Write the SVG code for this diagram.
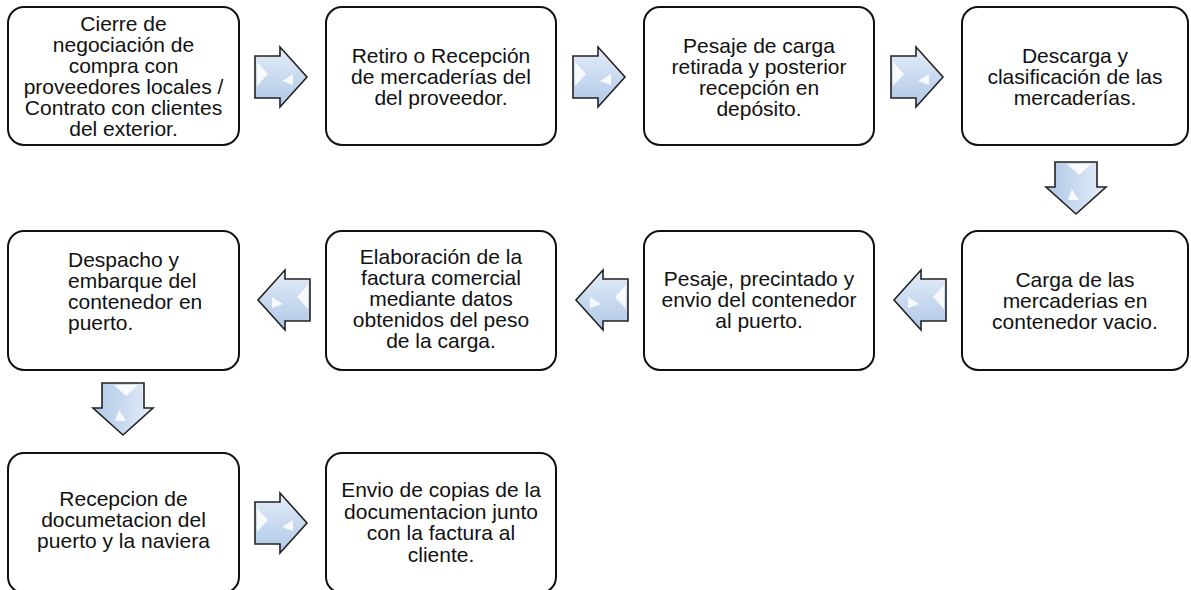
<svg xmlns="http://www.w3.org/2000/svg" width="1191" height="590" viewBox="0 0 1191 590">
<style>
.box{fill:#fff;stroke:#111;stroke-width:2}
.t{font-family:"Liberation Sans",Arial,sans-serif;font-size:21px;fill:#111;text-anchor:middle}
.tl{font-family:"Liberation Sans",Arial,sans-serif;font-size:21px;fill:#111;text-anchor:start}
.arr{fill:url(#ag);stroke:#222;stroke-width:1.6;stroke-linejoin:miter}
.hl{fill:#fff;opacity:0.85}
</style>
<defs>
<linearGradient id="ag" x1="0" y1="0" x2="0" y2="1">
<stop offset="0" stop-color="#e6eef9"/>
<stop offset="0.5" stop-color="#c9daf0"/>
<stop offset="1" stop-color="#afc7e5"/>
</linearGradient>
<g id="arrow">
<path class="arr" d="M0,-21 H25 V-30 L52,0 L25,30 V21 H0 Z"/>
<path class="hl" d="M2,-15 L13,-3 L2,9 Z"/>
<path class="hl" d="M27,4 L38,-3 L38,8 Z"/>
</g>
</defs>

<g id="connectors">
<use href="#arrow" transform="translate(255,77)"/>
<use href="#arrow" transform="translate(573,77)"/>
<use href="#arrow" transform="translate(891,77)"/>
<use href="#arrow" transform="translate(1076,162) rotate(90)"/>
<use href="#arrow" transform="translate(946,300) scale(-1,1)"/>
<use href="#arrow" transform="translate(628,300) scale(-1,1)"/>
<use href="#arrow" transform="translate(310,300) scale(-1,1)"/>
<use href="#arrow" transform="translate(123,383) rotate(90)"/>
<use href="#arrow" transform="translate(255,523)"/>
</g>

<g id="n1">
<rect class="box" x="8" y="7" width="231" height="138" rx="16"/>
<text class="t"><tspan x="123.5" y="31">Cierre de</tspan><tspan x="123.5" y="52">negociación de</tspan><tspan x="123.5" y="73">compra con</tspan><tspan x="123.5" y="94">proveedores locales /</tspan><tspan x="123.5" y="115">Contrato con clientes</tspan><tspan x="123.5" y="136">del exterior.</tspan></text>
</g>
<g id="n2">
<rect class="box" x="326" y="7" width="230" height="138" rx="16"/>
<text class="t"><tspan x="441" y="63">Retiro o Recepción</tspan><tspan x="441" y="84">de mercaderías del</tspan><tspan x="441" y="105">del proveedor.</tspan></text>
</g>
<g id="n3">
<rect class="box" x="644" y="7" width="230" height="138" rx="16"/>
<text class="t"><tspan x="759" y="53">Pesaje de carga</tspan><tspan x="759" y="74">retirada y posterior</tspan><tspan x="759" y="95">recepción en</tspan><tspan x="759" y="116">depósito.</tspan></text>
</g>
<g id="n4">
<rect class="box" x="962" y="7" width="226" height="138" rx="16"/>
<text class="t"><tspan x="1075" y="63">Descarga y</tspan><tspan x="1075" y="84">clasificación de las</tspan><tspan x="1075" y="105">mercaderías.</tspan></text>
</g>
<g id="n5">
<rect class="box" x="962" y="231" width="226" height="139" rx="16"/>
<text class="t"><tspan x="1075" y="287">Carga de las</tspan><tspan x="1075" y="308">mercaderias en</tspan><tspan x="1075" y="329">contenedor vacio.</tspan></text>
</g>
<g id="n6">
<rect class="box" x="644" y="231" width="230" height="139" rx="16"/>
<text class="t"><tspan x="759" y="286">Pesaje, precintado y</tspan><tspan x="759" y="307">envio del contenedor</tspan><tspan x="759" y="328">al puerto.</tspan></text>
</g>
<g id="n7">
<rect class="box" x="326" y="231" width="230" height="139" rx="16"/>
<text class="t"><tspan x="441" y="264">Elaboración de la</tspan><tspan x="441" y="285">factura comercial</tspan><tspan x="441" y="306">mediante datos</tspan><tspan x="441" y="327">obtenidos del peso</tspan><tspan x="441" y="348">de la carga.</tspan></text>
</g>
<g id="n8">
<rect class="box" x="8" y="231" width="231" height="139" rx="16"/>
<text class="tl"><tspan x="68" y="267">Despacho y</tspan><tspan x="68" y="288">embarque del</tspan><tspan x="68" y="309">contenedor en</tspan><tspan x="68" y="330">puerto.</tspan></text>
</g>
<g id="n9">
<rect class="box" x="8" y="453" width="231" height="140" rx="16"/>
<text class="t"><tspan x="123.5" y="506">Recepcion de</tspan><tspan x="123.5" y="527">documetacion del</tspan><tspan x="123.5" y="548">puerto y la naviera</tspan></text>
</g>
<g id="n10">
<rect class="box" x="326" y="453" width="230" height="140" rx="16"/>
<text class="t"><tspan x="441" y="497">Envio de copias de la</tspan><tspan x="441" y="518.5">documentacion junto</tspan><tspan x="441" y="540">con la factura al</tspan><tspan x="441" y="561.5">cliente.</tspan></text>
</g>
</svg>
